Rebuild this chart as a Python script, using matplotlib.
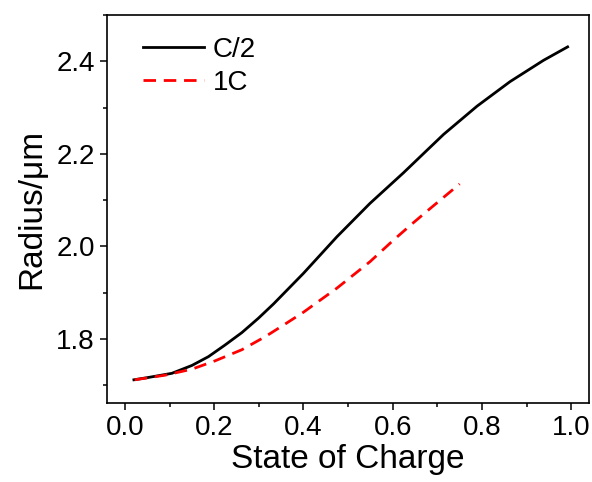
import matplotlib
matplotlib.use("Agg")
import matplotlib.pyplot as plt
from matplotlib.ticker import MultipleLocator

# C/2 rate
soc_half = [0.02, 0.052, 0.105, 0.150, 0.187, 0.224, 0.262, 0.299, 0.333, 0.400,
            0.475, 0.549, 0.624, 0.676, 0.714, 0.789, 0.863, 0.938, 0.992]
radius_half = [1.712, 1.717, 1.726, 1.743, 1.762, 1.787, 1.814, 1.845, 1.876, 1.942,
               2.021, 2.093, 2.159, 2.207, 2.242, 2.303, 2.356, 2.402, 2.431]

# 1C rate
soc_1c = [0.022, 0.090, 0.150, 0.202, 0.262, 0.314, 0.355, 0.400, 0.475, 0.549,
          0.602, 0.646, 0.684, 0.750]
radius_1c = [1.712, 1.722, 1.735, 1.753, 1.777, 1.805, 1.830, 1.858, 1.910, 1.967,
             2.014, 2.051, 2.082, 2.135]

x_ticks = [0.0, 0.2, 0.4, 0.6, 0.8, 1.0]
y_ticks = [1.8, 2.0, 2.2, 2.4]

plt.rcParams["font.family"] = ["Liberation Sans", "DejaVu Sans"]

fig = plt.figure(figsize=(5.92, 4.82), dpi=100)
ax = fig.add_axes([0.181, 0.164, 0.814, 0.805])

ax.plot(soc_half, radius_half, color="black", lw=2.0, label="C/2")
ax.plot(soc_1c, radius_1c, color="red", lw=2.0, ls=(0, (4.5, 2.8)), label="1C")

ax.set_xlim(-0.04, 1.04)
ax.set_ylim(1.662, 2.5)
ax.set_xticks(x_ticks)
ax.set_yticks(y_ticks)
ax.set_xticklabels([f"{v:.1f}" for v in x_ticks])
ax.set_yticklabels([f"{v:.1f}" for v in y_ticks])
ax.xaxis.set_minor_locator(MultipleLocator(0.1))
ax.yaxis.set_minor_locator(MultipleLocator(0.1))
ax.tick_params(which="major", direction="out", length=5, width=1.1, labelsize=20, pad=4)
ax.tick_params(which="minor", direction="out", length=3, width=1.1)
for sp in ax.spines.values():
    sp.set_linewidth(1.2)

ax.set_xlabel("State of Charge", fontsize=24, labelpad=2)
ax.set_ylabel("Radius/\u03bcm", fontsize=24, labelpad=6)

ax.legend(loc="upper left", bbox_to_anchor=(0.0, 1.036), frameon=False, fontsize=20,
          handlelength=2.2, handletextpad=0.3, labelspacing=0.25, borderaxespad=0.9)

fig.savefig("out.png", dpi=100)
